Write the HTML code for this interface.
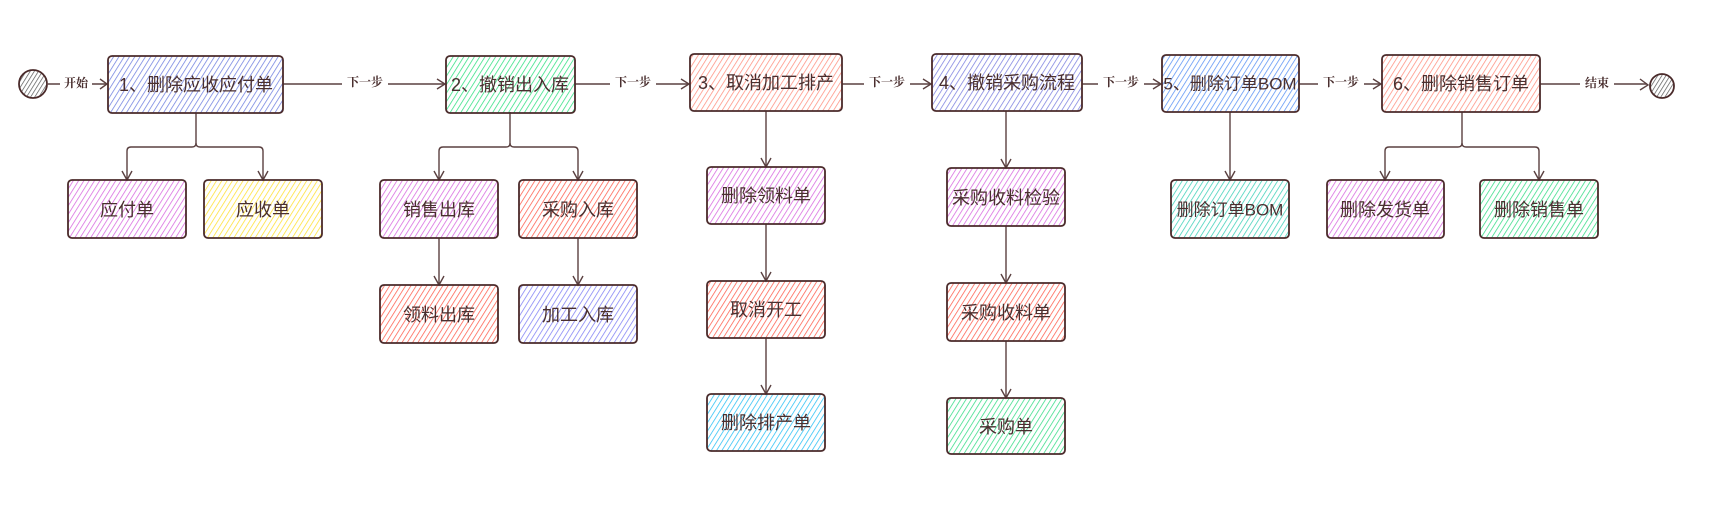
<!DOCTYPE html>
<html><head><meta charset="utf-8"><style>
html,body{margin:0;padding:0;background:#fff;width:1728px;height:505px;overflow:hidden}
svg text{font-family:"Liberation Sans","Noto Sans CJK SC",sans-serif;fill:#4a2f2f}
.t{font-size:18px;text-anchor:middle;dominant-baseline:central}
.l{font-size:12px;text-anchor:middle;dominant-baseline:central;font-weight:bold;font-family:"Liberation Serif","Noto Serif CJK SC",serif}
.b{stroke:#4a2a2a;stroke-width:1.8;}
.c{stroke:#5a4040;stroke-width:1.4;fill:none}
</style></head><body>
<svg width="1728" height="505" xmlns="http://www.w3.org/2000/svg">
<defs>
<pattern id="p1" width="4.5" height="5" patternUnits="userSpaceOnUse" patternTransform="rotate(32)"><line x1="0" y1="0" x2="0" y2="5" stroke="#6f80e0" stroke-width="1.5"/></pattern>
<pattern id="p2" width="4.5" height="5" patternUnits="userSpaceOnUse" patternTransform="rotate(32)"><line x1="0" y1="0" x2="0" y2="5" stroke="#2ee080" stroke-width="1.5"/></pattern>
<pattern id="p3" width="4.5" height="5" patternUnits="userSpaceOnUse" patternTransform="rotate(32)"><line x1="0" y1="0" x2="0" y2="5" stroke="#ff9080" stroke-width="1.5"/></pattern>
<pattern id="p4" width="4.5" height="5" patternUnits="userSpaceOnUse" patternTransform="rotate(32)"><line x1="0" y1="0" x2="0" y2="5" stroke="#7c80e0" stroke-width="1.5"/></pattern>
<pattern id="p5" width="4.5" height="5" patternUnits="userSpaceOnUse" patternTransform="rotate(32)"><line x1="0" y1="0" x2="0" y2="5" stroke="#5a92f5" stroke-width="1.5"/></pattern>
<pattern id="pm" width="4.5" height="5" patternUnits="userSpaceOnUse" patternTransform="rotate(32)"><line x1="0" y1="0" x2="0" y2="5" stroke="#d866e0" stroke-width="1.5"/></pattern>
<pattern id="py" width="4.5" height="5" patternUnits="userSpaceOnUse" patternTransform="rotate(32)"><line x1="0" y1="0" x2="0" y2="5" stroke="#ffe030" stroke-width="1.5"/></pattern>
<pattern id="pr" width="4.5" height="5" patternUnits="userSpaceOnUse" patternTransform="rotate(32)"><line x1="0" y1="0" x2="0" y2="5" stroke="#ff5c4c" stroke-width="1.5"/></pattern>
<pattern id="pv" width="4.5" height="5" patternUnits="userSpaceOnUse" patternTransform="rotate(32)"><line x1="0" y1="0" x2="0" y2="5" stroke="#8080f5" stroke-width="1.5"/></pattern>
<pattern id="pc" width="4.5" height="5" patternUnits="userSpaceOnUse" patternTransform="rotate(32)"><line x1="0" y1="0" x2="0" y2="5" stroke="#28c0f5" stroke-width="1.5"/></pattern>
<pattern id="pg" width="4.5" height="5" patternUnits="userSpaceOnUse" patternTransform="rotate(32)"><line x1="0" y1="0" x2="0" y2="5" stroke="#34dc85" stroke-width="1.5"/></pattern>
<pattern id="pt" width="4.5" height="5" patternUnits="userSpaceOnUse" patternTransform="rotate(32)"><line x1="0" y1="0" x2="0" y2="5" stroke="#3cd0b8" stroke-width="1.5"/></pattern>
<pattern id="pk" width="3.5" height="4" patternUnits="userSpaceOnUse" patternTransform="rotate(32)"><line x1="0" y1="0" x2="0" y2="4" stroke="#555" stroke-width="1.4"/></pattern>
</defs>

<g class="c">
<path d="M48 84 H106"/><path d="M100 79 L107 84 L100 89"/>
<path d="M283 84 H444"/><path d="M437 79 L445 84 L437 89"/>
<path d="M575 84 H688"/><path d="M681 79 L689 84 L681 89"/>
<path d="M842 84 H930"/><path d="M923 79 L931 84 L923 89"/>
<path d="M1082 84 H1160"/><path d="M1153 79 L1161 84 L1153 89"/>
<path d="M1299 84 H1380"/><path d="M1373 79 L1381 84 L1373 89"/>
<path d="M1540 84 H1647"/><path d="M1640 79 L1648 85 L1640 90"/>

<path d="M196 113 V143 Q196 147 192 147 H131 Q127 147 127 151 V179"/>
<path d="M196 143 Q196 147 200 147 H259 Q263 147 263 151 V179"/>
<path d="M122 171 L127 180 L132 171"/><path d="M258 171 L263 180 L268 171"/>

<path d="M510 112 V143 Q510 147 506 147 H443 Q439 147 439 151 V179"/>
<path d="M510 143 Q510 147 514 147 H574 Q578 147 578 151 V179"/>
<path d="M434 171 L439 180 L444 171"/><path d="M573 171 L578 180 L583 171"/>
<path d="M439 238 V284"/><path d="M434 276 L439 285 L444 276"/>
<path d="M578 238 V284"/><path d="M573 276 L578 285 L583 276"/>

<path d="M766 111 V166"/><path d="M761 158 L766 167 L771 158"/>
<path d="M766 224 V280"/><path d="M761 272 L766 281 L771 272"/>
<path d="M766 338 V393"/><path d="M761 385 L766 394 L771 385"/>

<path d="M1006 111 V167"/><path d="M1001 159 L1006 168 L1011 159"/>
<path d="M1006 226 V282"/><path d="M1001 274 L1006 283 L1011 274"/>
<path d="M1006 341 V397"/><path d="M1001 389 L1006 398 L1011 389"/>

<path d="M1230 112 V179"/><path d="M1225 171 L1230 180 L1235 171"/>

<path d="M1462 112 V143 Q1462 147 1458 147 H1389 Q1385 147 1385 151 V179"/>
<path d="M1462 143 Q1462 147 1466 147 H1535 Q1539 147 1539 151 V179"/>
<path d="M1380 171 L1385 180 L1390 171"/><path d="M1534 171 L1539 180 L1544 171"/>
</g>

<g>
<rect x="60" y="76" width="32" height="16" fill="#fff"/><text class="l" x="76" y="83">开始</text>
<rect x="342" y="76" width="46" height="16" fill="#fff"/><text class="l" x="365" y="82">下一步</text>
<rect x="610" y="76" width="46" height="16" fill="#fff"/><text class="l" x="633" y="82">下一步</text>
<rect x="864" y="76" width="46" height="16" fill="#fff"/><text class="l" x="887" y="82">下一步</text>
<rect x="1098" y="76" width="46" height="16" fill="#fff"/><text class="l" x="1121" y="82">下一步</text>
<rect x="1318" y="76" width="46" height="16" fill="#fff"/><text class="l" x="1341" y="82">下一步</text>
<rect x="1580" y="76" width="34" height="16" fill="#fff"/><text class="l" x="1597" y="83">结束</text>
</g>

<circle cx="33" cy="84" r="14" fill="url(#pk)" class="b" stroke-width="1.2"/>
<circle cx="1662" cy="86" r="12" fill="url(#pk)" class="b" stroke-width="1.2"/>

<g class="b">
<rect x="108" y="56" width="175" height="57" rx="4" fill="url(#p1)"/>
<rect x="446" y="56" width="129" height="57" rx="4" fill="url(#p2)"/>
<rect x="690" y="54" width="152" height="57" rx="4" fill="url(#p3)"/>
<rect x="932" y="54" width="150" height="57" rx="4" fill="url(#p4)"/>
<rect x="1162" y="55" width="137" height="57" rx="4" fill="url(#p5)"/>
<rect x="1382" y="55" width="158" height="57" rx="4" fill="url(#p3)"/>

<rect x="68" y="180" width="118" height="58" rx="4" fill="url(#pm)"/>
<rect x="204" y="180" width="118" height="58" rx="4" fill="url(#py)"/>
<rect x="380" y="180" width="118" height="58" rx="4" fill="url(#pm)"/>
<rect x="519" y="180" width="118" height="58" rx="4" fill="url(#pr)"/>
<rect x="380" y="285" width="118" height="58" rx="4" fill="url(#pr)"/>
<rect x="519" y="285" width="118" height="58" rx="4" fill="url(#pv)"/>
<rect x="707" y="167" width="118" height="57" rx="4" fill="url(#pm)"/>
<rect x="707" y="281" width="118" height="57" rx="4" fill="url(#pr)"/>
<rect x="707" y="394" width="118" height="57" rx="4" fill="url(#pc)"/>
<rect x="947" y="168" width="118" height="58" rx="4" fill="url(#pm)"/>
<rect x="947" y="283" width="118" height="58" rx="4" fill="url(#pr)"/>
<rect x="947" y="398" width="118" height="56" rx="4" fill="url(#pg)"/>
<rect x="1171" y="180" width="118" height="58" rx="4" fill="url(#pt)"/>
<rect x="1327" y="180" width="117" height="58" rx="4" fill="url(#pm)"/>
<rect x="1480" y="180" width="118" height="58" rx="4" fill="url(#pg)"/>
</g>

<g>
<text class="t" x="196" y="85">1、删除应收应付单</text>
<text class="t" x="510" y="85">2、撤销出入库</text>
<text class="t" x="766" y="83">3、取消加工排产</text>
<text class="t" x="1007" y="83">4、撤销采购流程</text>
<text class="t" x="1230" y="84" style="font-size:17px">5、删除订单BOM</text>
<text class="t" x="1461" y="84">6、删除销售订单</text>

<text class="t" x="127" y="210">应付单</text>
<text class="t" x="263" y="210">应收单</text>
<text class="t" x="439" y="210">销售出库</text>
<text class="t" x="578" y="210">采购入库</text>
<text class="t" x="439" y="315">领料出库</text>
<text class="t" x="578" y="315">加工入库</text>
<text class="t" x="766" y="196">删除领料单</text>
<text class="t" x="766" y="310">取消开工</text>
<text class="t" x="766" y="423">删除排产单</text>
<text class="t" x="1006" y="198">采购收料检验</text>
<text class="t" x="1006" y="313">采购收料单</text>
<text class="t" x="1006" y="427">采购单</text>
<text class="t" x="1230" y="210" style="font-size:17px">删除订单BOM</text>
<text class="t" x="1385" y="210">删除发货单</text>
<text class="t" x="1539" y="210">删除销售单</text>
</g>
</svg>
</body></html>
